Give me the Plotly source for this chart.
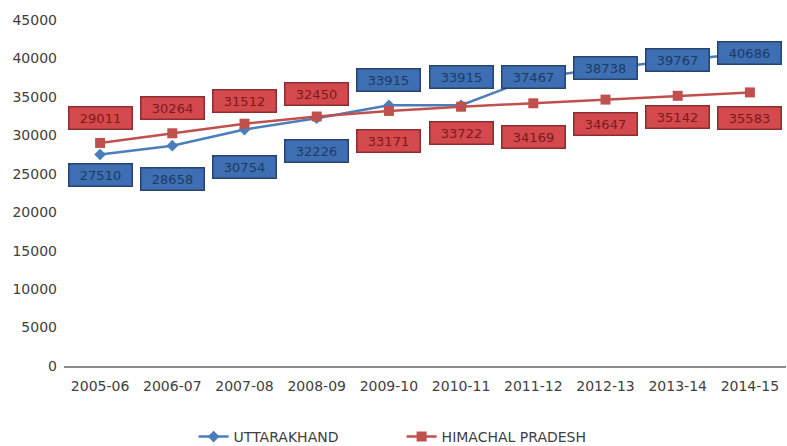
import plotly.graph_objects as go

years = ["2005-06", "2006-07", "2007-08", "2008-09", "2009-10",
         "2010-11", "2011-12", "2012-13", "2013-14", "2014-15"]
uttarakhand = [27510, 28658, 30754, 32226, 33915, 33915, 37467, 38738, 39767, 40686]
himachal = [29011, 30264, 31512, 32450, 33171, 33722, 34169, 34647, 35142, 35583]

# label placement (pixel shifts, positive = up) - styling only
uk_shift = [-21, -33, -37, -33, 25, 28, 1, 0, 0, 0]
hp_shift = [25, 25, 23, 23, -30, -26, -34, -24, -21, -26]

FONT = "DejaVu Sans"
BLUE = "#4a7ebb"
RED = "#c0504d"

fig = go.Figure()
fig.add_trace(go.Scatter(
    x=years, y=uttarakhand, name="UTTARAKHAND", mode="lines+markers",
    line=dict(color=BLUE, width=2.5),
    marker=dict(symbol="diamond", size=9, color=BLUE)))
fig.add_trace(go.Scatter(
    x=years, y=himachal, name="HIMACHAL PRADESH", mode="lines+markers",
    line=dict(color=RED, width=2.5),
    marker=dict(symbol="square", size=10, color=RED)))

anns = []
for x, v, s in zip(years, uttarakhand, uk_shift):
    anns.append(dict(x=x, y=v, text=str(v), showarrow=False, yshift=s,
                     font=dict(family=FONT, size=13, color="#1d3a66"),
                     bgcolor="#3d6fb2", bordercolor="#27446e", borderwidth=1.5,
                     borderpad=3, width=56))
for x, v, s in zip(years, himachal, hp_shift):
    anns.append(dict(x=x, y=v, text=str(v), showarrow=False, yshift=s,
                     font=dict(family=FONT, size=13, color="#7a1a1a"),
                     bgcolor="#d4494e", bordercolor="#8c2e2e", borderwidth=1.5,
                     borderpad=3, width=56))

fig.update_layout(
    width=787, height=446,
    margin=dict(l=64, r=1, t=20, b=80, autoexpand=False),
    paper_bgcolor="white", plot_bgcolor="white",
    font=dict(family=FONT, size=14, color="#404040"),
    annotations=anns,
    showlegend=True,
    legend=dict(orientation="h", x=0.1795, xanchor="left", y=-0.205, yanchor="middle",
                font=dict(family=FONT, size=14, color="#404040"),
                entrywidth=163, entrywidthmode="pixels", bgcolor="rgba(0,0,0,0)"),
    xaxis=dict(type="category", range=[-0.5, 9.5], showgrid=False, showline=True,
               linecolor="#8c8c8c", linewidth=1.5, ticks="", zeroline=False,
               ticklabelstandoff=6, automargin=False,
               tickfont=dict(family=FONT, size=14, color="#404040")),
    yaxis=dict(range=[0, 45000], dtick=5000, tickformat="d", showgrid=False,
               showline=False, zeroline=False, ticks="", ticklabelstandoff=6,
               automargin=False,
               tickfont=dict(family=FONT, size=14, color="#404040")),
)

fig.write_html("out.html", config={"displayModeBar": False},
               post_script="document.body.style.margin='0';document.body.style.overflow='hidden';")
